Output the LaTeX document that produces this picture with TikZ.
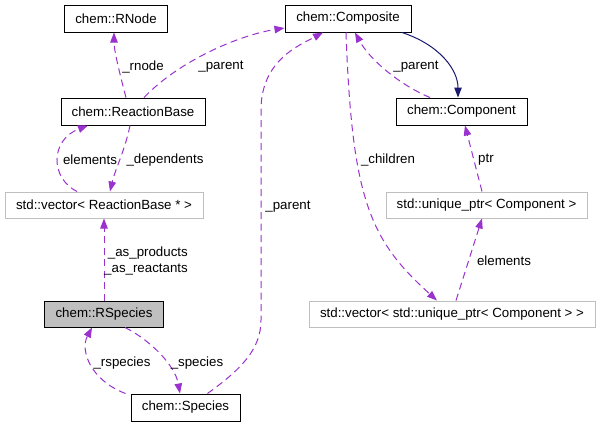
\documentclass[tikz,border=0pt]{standalone}
\usepackage{fontspec}
\setmainfont{Liberation Sans}
\usetikzlibrary{arrows.meta}
\definecolor{purp}{HTML}{9A32CD}
\definecolor{navy}{HTML}{191970}
\definecolor{lgray}{HTML}{BFBFBF}
\tikzset{
  cls/.style={draw=black, line width=1pt, rectangle, inner sep=0pt, fill=white, font=\fontsize{13.3}{16}\selectfont},
  tpl/.style={draw=lgray, line width=1pt, rectangle, inner sep=0pt, fill=white, font=\fontsize{13.3}{16}\selectfont},
  usage/.style={draw=purp, line width=1pt, dash pattern=on 7pt off 4.5pt, -{Triangle[length=10pt,width=7.5pt]}},
  inherit/.style={draw=navy, line width=1pt, -{Triangle[length=10pt,width=7.5pt]}},
  lbl/.style={inner sep=0pt, font=\fontsize{13.3}{16}\selectfont},
}
\begin{document}
\begin{tikzpicture}[x=1pt,y=-1pt]
\useasboundingbox[fill=white] (0,0) rectangle (600,429);
\node[cls, minimum width=103pt, minimum height=27pt] (rnode) at (116,18.5) {chem::RNode};
\node[cls, minimum width=144pt, minimum height=27pt] (rb) at (133,111.5) {chem::ReactionBase};
\node[tpl, minimum width=198pt, minimum height=26pt] (vrb) at (104,205) {std::vector< ReactionBase * >};
\node[cls, fill=lgray, minimum width=119pt, minimum height=26pt] (rsp) at (104,314) {chem::RSpecies};
\node[cls, minimum width=109pt, minimum height=27pt] (sp) at (185.5,407.5) {chem::Species};
\node[cls, minimum width=126pt, minimum height=27pt] (comp) at (348,18.5) {chem::Composite};
\node[cls, minimum width=131pt, minimum height=27pt] (cmp) at (461.5,111.5) {chem::Component};
\node[tpl, minimum width=201pt, minimum height=26pt] (uptr) at (486.5,205) {std::unique\_ptr< Component >};
\node[tpl, minimum width=286pt, minimum height=26pt] (vup) at (452,314) {std::vector< std::unique\_ptr< Component > >};

\draw[usage] ([xshift=-7pt]rb.north) .. controls (120,75) and (114,50) .. ([xshift=-2pt]rnode.south);
\draw[usage] ([xshift=11pt]rb.north) .. controls (180,60) and (240,35) .. ([yshift=-9.5pt]comp.west);
\draw[usage] ([xshift=-27pt]vrb.north) .. controls (50,178) and (50,140) .. ([xshift=-45pt]rb.south);
\draw[usage] ([xshift=-3pt]rb.south) .. controls (125,150) and (115,170) .. ([xshift=6pt]vrb.north);
\draw[usage] (rsp.north) -- (vrb.south);
\draw[usage] ([xshift=-60pt]sp.north) .. controls (90,380) and (80,350) .. ([xshift=-12pt]rsp.south);
\draw[usage] ([xshift=21pt]rsp.south) .. controls (150,340) and (175,365) .. ([xshift=-5.5pt]sp.north);
\draw[usage] ([xshift=22pt]sp.north) .. controls (240,370) and (261,350) .. (261,320) -- (261,110) .. controls (261,60) and (300,45) .. ([xshift=-25pt]comp.south);
\draw[usage] ([xshift=-2pt]comp.south) .. controls (352,200) and (370,240) .. ([xshift=-15pt]vup.north);
\draw[usage] ([xshift=-31.5pt]cmp.north) .. controls (400,85) and (370,60) .. ([xshift=7pt]comp.south);
\draw[inherit] ([xshift=54pt]comp.south) .. controls (440,45) and (458,70) .. ([xshift=-3.5pt]cmp.north);
\draw[usage] ([xshift=-4.5pt]uptr.north) -- ([xshift=3.5pt]cmp.south);
\draw[usage] ([xshift=4pt]vup.north) -- ([xshift=-4.5pt]uptr.south);

\node[lbl] (l1) at (143,67) {\_rnode};
\node[lbl] (l2) at (221,67) {\_parent};
\node[lbl] (l3) at (90,160) {elements};
\node[lbl] (l4) at (165,160) {\_dependents};
\node[lbl, align=right] (l5) at (146,261) {\_as\_products\\\_as\_reactants};
\node[lbl] (l6) at (122,363) {\_rspecies};
\node[lbl] (l7) at (197,363) {\_species};
\node[lbl] (l8) at (288,207) {\_parent};
\node[lbl] (l9) at (388,160) {\_children};
\node[lbl] (l10) at (416,67) {\_parent};
\node[lbl] (l11) at (486,160) {ptr};
\node[lbl] (l12) at (504,261) {elements};
\end{tikzpicture}
\end{document}
